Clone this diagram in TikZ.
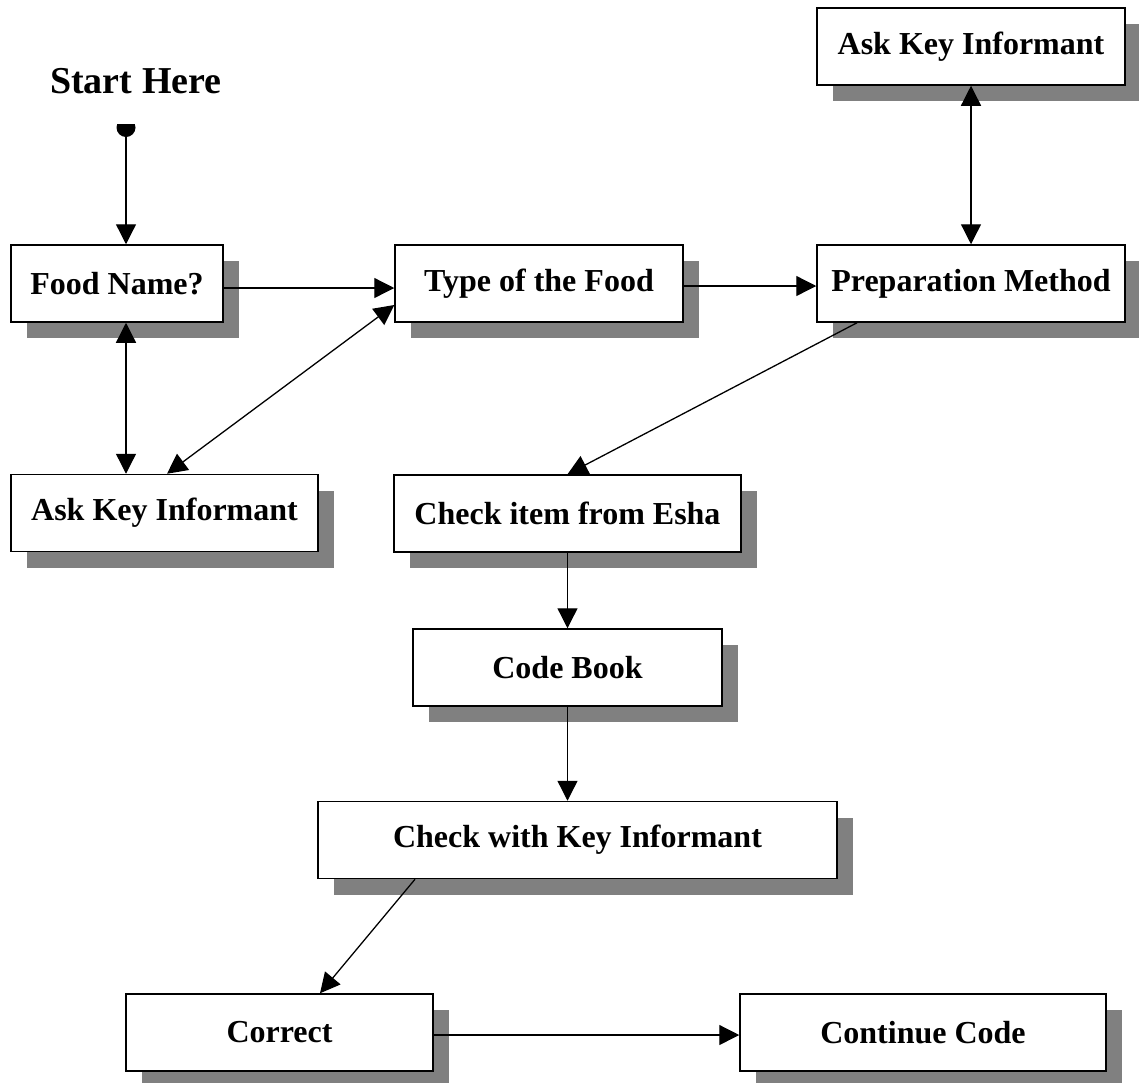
\documentclass[tikz,border=0pt]{standalone}
\usepackage{fontspec}
\setmainfont{Liberation Serif}
\usetikzlibrary{arrows.meta,shadows,calc}
\begin{document}
\begin{tikzpicture}[x=1pt,y=-1pt,
  box/.style={draw, line width=1.5pt, fill=white, minimum height=77pt, inner sep=0pt,
    font=\fontsize{32}{38}\selectfont\bfseries,
    drop shadow={shadow xshift=16pt, shadow yshift=-16pt, fill=black!50, opacity=1}},
  tip/.style={Triangle[length=20pt,width=20pt]},
  conn/.style={line width=1.3pt, -{Triangle[length=20pt,width=20pt]}},
  biconn/.style={line width=1.3pt, {Triangle[length=20pt,width=20pt]}-{Triangle[length=20pt,width=20pt]}}]
\useasboundingbox (0,0) rectangle (1139,1082);

% title
\node[font=\fontsize{38}{44}\selectfont\bfseries, anchor=base west, inner sep=0pt] (start) at (50,93) {Start Here};

% boxes
\node[box, minimum width=308pt] (akt)  at (971,46.5)   {Ask Key Informant};
\node[box, minimum width=212pt] (fn)   at (117,283.5)  {Food Name?};
\node[box, minimum width=288pt] (tf)   at (539,283.5)  {Type of the Food};
\node[box, minimum width=308pt] (pm)   at (971,283.5)  {Preparation Method};
\node[box, minimum width=307pt] (akl)  at (164.5,513)  {Ask Key Informant};
\node[box, minimum width=347pt] (esha) at (567.5,513.5){Check item from Esha};
\node[box, minimum width=309pt] (cb)   at (567.5,667.5){Code Book};
\node[box, minimum width=519pt] (ck)   at (577.5,840)  {Check with Key Informant};
\node[box, minimum width=307pt] (cor)  at (279.5,1032.5){Correct};
\node[box, minimum width=366pt] (cont) at (923,1032.5) {Continue Code};

% start dot
\coordinate (dot) at (126,128);
\begin{scope}
  \clip (100,124) rectangle (150,150);
  \fill (126,127.5) circle (9.5pt);
\end{scope}

% connectors
\draw[conn] (dot) -- (dot |- fn.north);
\draw[conn] ([yshift=-4.5pt]fn.east) -- ([yshift=-4.5pt]tf.west);
\draw[conn] ([yshift=-2.5pt]tf.east) -- ([yshift=-2.5pt]pm.west);
\draw[biconn] (akt.south) -- (pm.north);
\draw[biconn] (fn.south -| dot) -- (akl.north -| dot);
\draw[biconn] ([yshift=-21.5pt]tf.west) -- ([xshift=2.5pt]akl.north);
\draw[conn] ([xshift=-114pt]pm.south) -- (esha.north);
\draw[conn] (esha.south) -- (cb.north);
\draw[conn] (cb.south) -- (cb.south |- ck.north);
\draw[conn] ([xshift=-162.5pt]ck.south) -- ([xshift=40.5pt]cor.north);
\draw[conn] ([yshift=-2.5pt]cor.east) -- ([yshift=-2.5pt]cont.west);
\end{tikzpicture}
\end{document}
